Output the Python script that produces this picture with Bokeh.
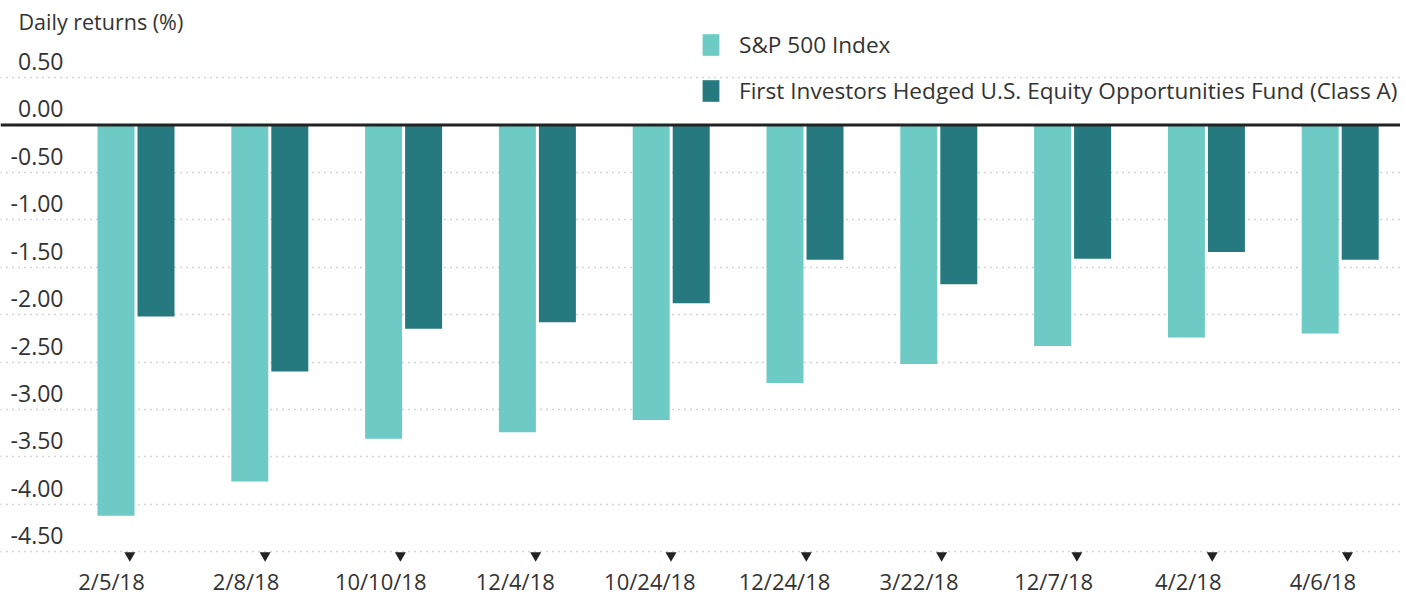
from bokeh.plotting import figure
from bokeh.models import (Range1d, LinearAxis, FixedTicker, Grid, Span, Legend,
                          LegendItem, ColumnDataSource)
from bokeh.transform import dodge
from bokeh.core.properties import value
from bokeh.embed import file_html
from bokeh.resources import INLINE

# ---------------- data ----------------
dates = ["2/5/18", "2/8/18", "10/10/18", "12/4/18", "10/24/18",
         "12/24/18", "3/22/18", "12/7/18", "4/2/18", "4/6/18"]
sp500 = [-4.12, -3.76, -3.31, -3.24, -3.11, -2.72, -2.52, -2.33, -2.24, -2.20]
fund = [-2.02, -2.60, -2.15, -2.08, -1.88, -1.42, -1.68, -1.41, -1.34, -1.42]
y_ticks = [0.5, 0.0, -0.5, -1.0, -1.5, -2.0, -2.5, -3.0, -3.5, -4.0, -4.5]
y_tick_labels = ["0.50", "0.00", "-0.50", "-1.00", "-1.50", "-2.00",
                 "-2.50", "-3.00", "-3.50", "-4.00", "-4.50"]
y_title = "Daily returns (%)"
series_names = ["S&P 500 Index",
                "First Investors Hedged U.S. Equity Opportunities Fund (Class A)"]

# ---------------- layout ----------------
FONT = "Open Sans"
TXT = "#333333"
C_SP = "#6ecac5"
C_FUND = "#26797e"

W, H = 1400, 598
BOTTOM = 33
frame_h = H - BOTTOM
PX_Y = 95.0
zero_px = 124.7
y_end = zero_px / PX_Y
y_start = -(frame_h - zero_px) / PX_Y

GROUP_PX = 133.8
x_start = -135.5 / GROUP_PX
x_end = x_start + W / GROUP_PX

LAB_PX = 134.6
lab_start = -111.0 / LAB_PX
lab_end = lab_start + W / LAB_PX

TRI_PX = 135.3
tri_start = -129.3 / TRI_PX
tri_end = tri_start + W / TRI_PX

bar_w = 37 / GROUP_PX
bar_off = 20 / GROUP_PX

idx = list(range(len(dates)))
src = ColumnDataSource(dict(idx=idx, sp=sp500, fund=fund, date=dates))

p = figure(width=W, height=H, x_range=Range1d(x_start, x_end),
           y_range=Range1d(y_start, y_end), output_backend="svg",
           toolbar_location=None, x_axis_location=None, y_axis_location=None,
           min_border=0, min_border_bottom=BOTTOM, outline_line_color=None)
p.xgrid.visible = False
p.ygrid.visible = False

p.extra_x_ranges = {"lab": Range1d(lab_start, lab_end),
                    "tri": Range1d(tri_start, tri_end)}

grid = Grid(dimension=1, ticker=FixedTicker(ticks=[t for t in y_ticks if t != 0]),
            grid_line_color="#aaaaaa", grid_line_dash="1 5", grid_line_width=1.3)
p.add_layout(grid)

r_sp = p.vbar(x=dodge("idx", -bar_off, range=p.x_range), top=0, bottom="sp",
              width=bar_w, source=src, fill_color=C_SP, line_color=None)
r_fund = p.vbar(x=dodge("idx", bar_off, range=p.x_range), top=0, bottom="fund",
                width=bar_w, source=src, fill_color=C_FUND, line_color=None)

p.add_layout(Span(location=0, dimension="width", line_color="#222222", line_width=3))

p.scatter(x=idx, y=[-4.54] * len(idx), marker="inverted_triangle", size=11,
          fill_color="#222222", line_color=None, x_range_name="tri")

# y tick labels above gridlines
p.text(x=[x_start] * len(y_ticks), y=y_ticks, text=y_tick_labels, x_offset=63,
       y_offset=-16, text_align="right", text_baseline="alphabetic",
       text_font=value(FONT), text_font_size="23px", text_color=TXT)
p.text(x=[x_start], y=[y_end], text=[y_title], x_offset=18, y_offset=21,
       text_align="left", text_baseline="alphabetic",
       text_font=value(FONT), text_font_size="21.5px", text_color=TXT)

ax = LinearAxis(x_range_name="lab", ticker=FixedTicker(ticks=idx),
                major_label_overrides={i: d for i, d in enumerate(dates)},
                axis_line_color=None, major_tick_line_color=None,
                minor_tick_line_color=None, major_tick_in=0, major_tick_out=0,
                minor_tick_in=0, minor_tick_out=0, major_label_standoff=1,
                major_label_text_font=FONT, major_label_text_font_size="22px",
                major_label_text_color=TXT)
p.add_layout(ax, "below")

legend = Legend(items=[LegendItem(label=series_names[0], renderers=[r_sp]),
                       LegendItem(label=series_names[1], renderers=[r_fund])],
                location=(700, frame_h - 106.8), orientation="vertical",
                glyph_width=21, glyph_height=27, spacing=15, label_standoff=18,
                padding=0, margin=0, border_line_color=None,
                background_fill_alpha=0, label_text_font=FONT,
                label_text_font_size="22.6px", label_text_color=TXT,
                label_height=27)
p.add_layout(legend)

open("out.html", "w").write(file_html(p, INLINE))
